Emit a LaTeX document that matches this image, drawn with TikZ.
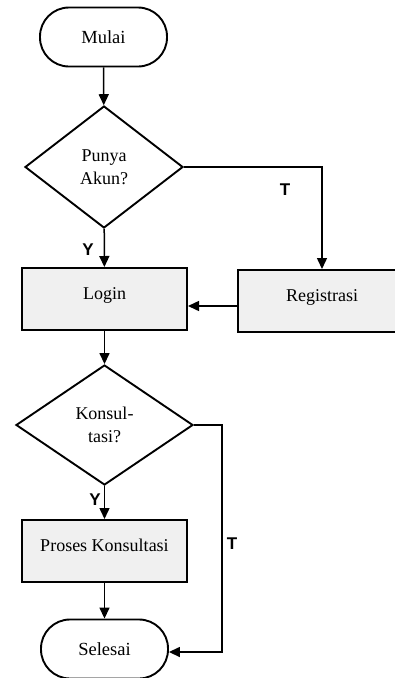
\documentclass[tikz,border=0pt]{standalone}
\usepackage{fontspec}
\setmainfont{Liberation Serif}
\newfontfamily\yesnofont{Liberation Sans}
\usetikzlibrary{
    arrows.meta,
    shapes.geometric,
    positioning
}
\definecolor{boxgray}{HTML}{F0F0F0}
\tikzset{
    term/.style={draw, line width=1.9pt, rounded corners=29pt, minimum width=127pt, minimum height=59pt, font=\fontsize{18.5}{23}\selectfont},
    proc/.style={draw, line width=2pt, fill=boxgray, minimum height=62pt, text height=10pt, text depth=10pt, font=\fontsize{18}{23}\selectfont},
    decide/.style={draw, diamond, line width=1.9pt, align=center, inner sep=0pt, font=\fontsize{18}{23.5}\selectfont},
    flow/.style={line width=1.5pt, -{Triangle[length=11pt, width=10pt]}},
    yesno/.style={font=\yesnofont\bfseries\fontsize{17}{17}\selectfont}
}

\begin{document}
\begin{tikzpicture}[x=1pt, y=-1pt]
    \useasboundingbox (0, 0) rectangle (395, 678);

    \node[term] (mulai) at (103.5, 37) {Mulai};
    \node[decide, minimum width=158pt, minimum height=122pt] (akun) at (104, 167) {Punya\\Akun?};
    \node[proc, minimum width=165pt] (login) at (104.5, 299) {Login};
    \node[proc, minimum width=168pt] (registrasi) at (322, 301) {Registrasi};
    \node[decide, minimum width=177pt, minimum height=120pt] (konsul) at (104.5, 425) {Konsul-\\tasi?};
    \node[proc, minimum width=165pt] (proses) at (104.5, 551) {Proses Konsultasi};
    \node[term] (selesai) at (104.5, 649) {Selesai};
    \coordinate (tidak) at (222, 652);

    \draw[flow] (mulai) -- (akun);
    \draw[flow] (akun) -- (login);
    \draw[flow] (akun.east) -| (registrasi.north);
    \draw[flow] ([yshift=-5pt]registrasi.west) -- ([yshift=-5pt]registrasi.west -| login.east);
    \draw[flow] (login) -- (konsul);
    \draw[flow] (konsul) -- (proses);
    \draw[flow] (proses) -- (selesai);
    \draw[flow] (konsul.east) -| (tidak) -- (tidak -| selesai.east);

    % Y / T
    \node[yesno] (ya1) at (88, 250) {Y};
    \node[yesno] (tdk1) at (285, 190) {T};
    \node[yesno] (ya2) at (95, 500) {Y};
    \node[yesno] (tdk2) at (232, 544) {T};
\end{tikzpicture}
\end{document}
